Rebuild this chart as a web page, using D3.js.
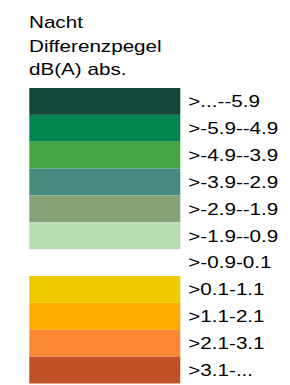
<!DOCTYPE html>
<html>
<head>
<meta charset="utf-8">
<script src="https://cdn.jsdelivr.net/npm/d3@7"></script>
<style>
  html, body { margin: 0; padding: 0; background: #fff; }
  text { font-family: "Liberation Sans", Arial, sans-serif; fill: #000; }
</style>
</head>
<body>
<div id="legend"></div>
<script>
// legend title lines
const titleLines = ["Nacht", "Differenzpegel", "dB(A) abs."];

// class labels, top to bottom
const classLabels = [
  ">...--5.9",
  ">-5.9--4.9",
  ">-4.9--3.9",
  ">-3.9--2.9",
  ">-2.9--1.9",
  ">-1.9--0.9",
  ">-0.9-0.1",
  ">0.1-1.1",
  ">1.1-2.1",
  ">2.1-3.1",
  ">3.1-..."
];

// swatch colours (null = no fill)
const classColors = [
  "#12473a",
  "#008551",
  "#47a443",
  "#468a80",
  "#86a377",
  "#b8dbb4",
  null,
  "#eecb00",
  "#ffaa00",
  "#fb8733",
  "#c05025"
];

const width = 290,
      height = 385;
const fontSize = 16;
const stretch = 1.29; // text in the picture is wider than normal

const svg = d3.select("#legend").append("svg")
    .attr("width", width)
    .attr("height", height);

// title
svg.append("g")
  .selectAll("text")
  .data(titleLines)
  .join("text")
    .attr("transform", (d, i) => `translate(29,${28.3 + i * 23.4}) scale(${stretch},1)`)
    .style("font-size", fontSize + "px")
    .text(d => d);

// one row per class
const y = d3.scaleBand()
  .domain(d3.range(classLabels.length))
  .range([88, 383.5])
  .padding(0);

const rows = svg.append("g")
  .selectAll("g")
  .data(classLabels)
  .join("g")
    .attr("transform", (d, i) => `translate(0,${y(i)})`);

rows.append("rect")
    .attr("x", 29.3)
    .attr("width", 151)
    .attr("height", y.bandwidth())
    .attr("fill", (d, i) => classColors[i] || "none");

rows.append("text")
    .attr("transform", `translate(188.3,${y.bandwidth() / 2 + fontSize * 0.36}) scale(${stretch},1)`)
    .style("font-size", fontSize + "px")
    .text(d => d);
</script>
</body>
</html>
